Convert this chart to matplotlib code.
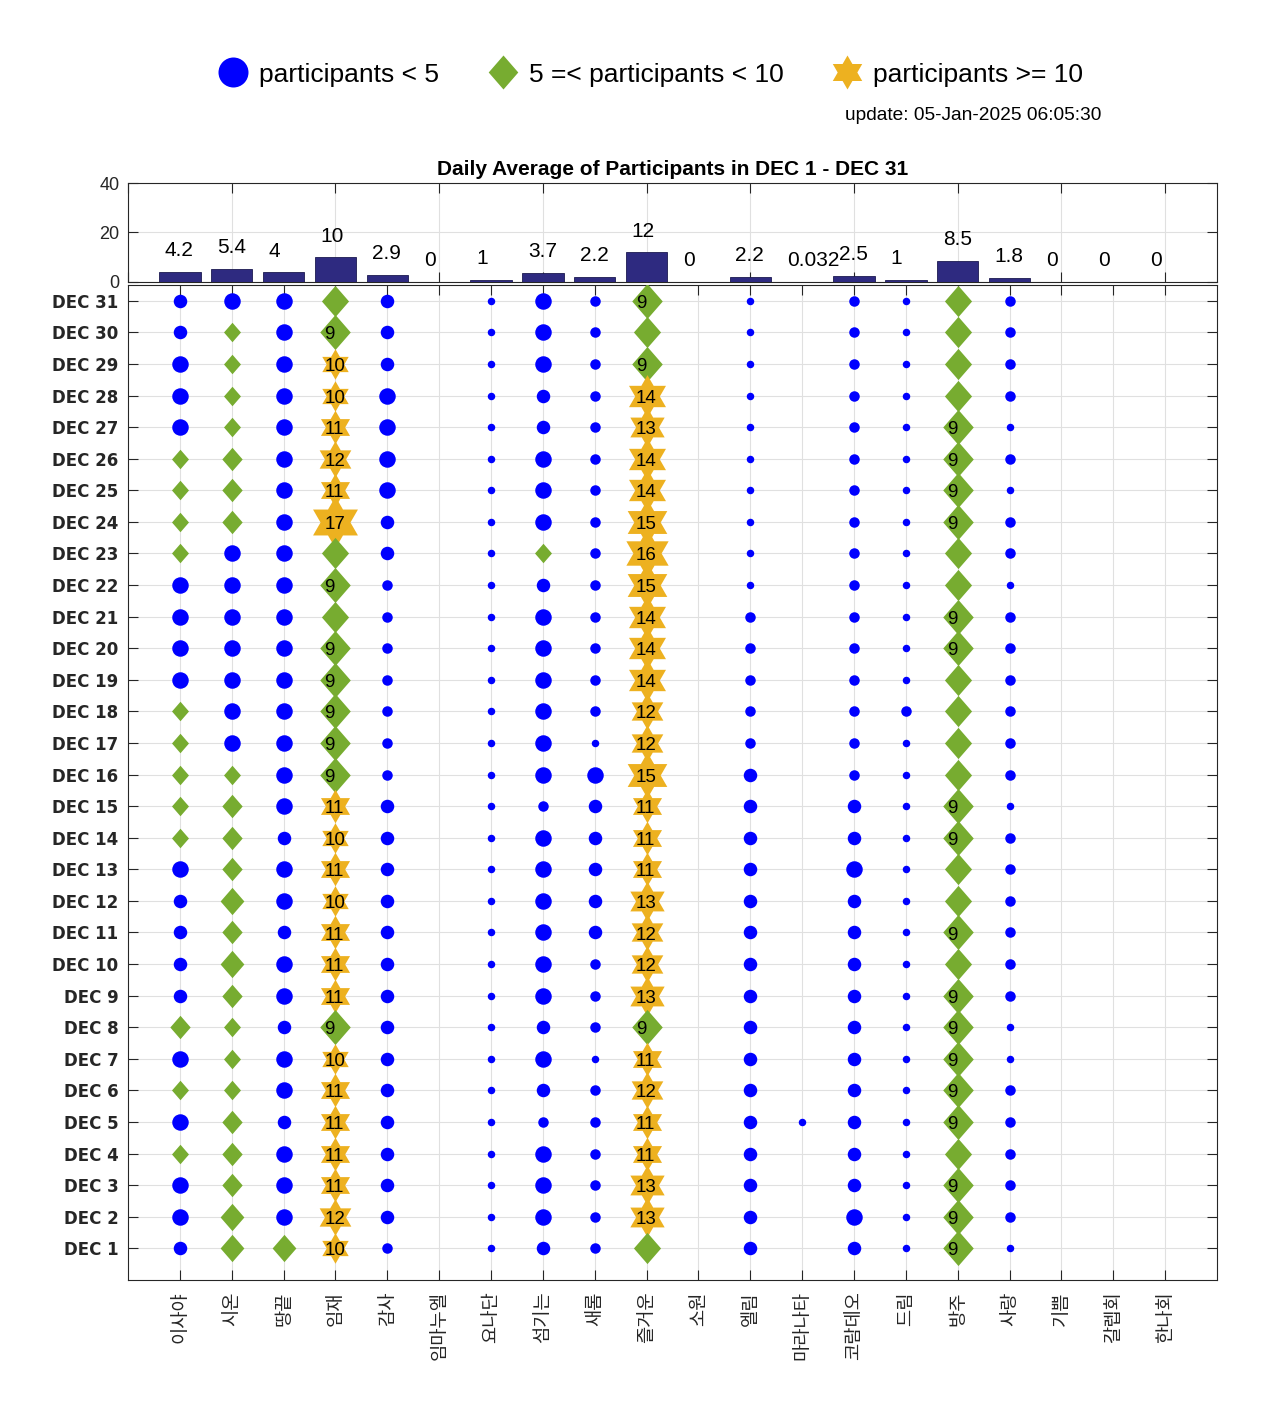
import numpy as np
import matplotlib.pyplot as plt
from matplotlib.path import Path
from matplotlib.lines import Line2D

# 카테고리 (x축)
categories = ['이사야', '시온', '땅끝', '임재', '감사', '임마누엘', '요나단', '섬기는', '새롬', '즐거운',
              '소원', '엘림', '마라나타', '코람데오', '드림', '방주', '사랑', '기쁨', '갈렙회', '한나회']

# 막대 위 평균값
daily_avg = [4.2, 5.4, 4, 10, 2.9, 0, 1, 3.7, 2.2, 12, 0, 2.2, 0.032, 2.5, 1, 8.5, 1.8, 0, 0, 0]

days = list(range(31, 0, -1))          # DEC 31 ... DEC 1 (위에서 아래로)
day_labels = ['DEC %d' % d for d in range(1, 32)]

# 일별 참가자 수, DEC 31 -> DEC 1 순서
isaya = [3, 3, 4, 4, 4, 5, 5, 5, 5, 4, 4, 4, 4, 5, 5, 5, 5, 5, 4, 3, 3, 3, 3, 6, 4, 5, 4, 5, 4, 4, 3]
sion = [4, 5, 5, 5, 5, 6, 6, 6, 4, 4, 4, 4, 4, 4, 4, 5, 6, 6, 6, 7, 6, 7, 6, 5, 5, 5, 6, 6, 6, 7, 7]
ttangkkeut = [4, 4, 4, 4, 4, 4, 4, 4, 4, 4, 4, 4, 4, 4, 4, 4, 4, 3, 4, 4, 3, 4, 4, 3, 4, 4, 3, 4, 4, 4, 7]
imjae = [8, 9, 10, 10, 11, 12, 11, 17, 8, 9, 8, 9, 9, 9, 9, 9, 11, 10, 11, 10, 11, 11, 11, 9, 10, 11, 11, 11, 11, 12, 10]
gamsa = [3, 3, 3, 4, 4, 4, 4, 3, 3, 2, 2, 2, 2, 2, 2, 2, 3, 3, 3, 3, 3, 3, 3, 3, 3, 3, 3, 3, 3, 3, 2]
immanuel = [0] * 31
yonadan = [1] * 31
seomgineun = [4, 4, 4, 3, 3, 4, 4, 4, 5, 3, 4, 4, 4, 4, 4, 4, 2, 4, 4, 4, 4, 4, 4, 3, 4, 3, 2, 4, 4, 4, 3]
saerom = [2, 2, 2, 2, 2, 2, 2, 2, 2, 2, 2, 2, 2, 2, 1, 4, 3, 3, 3, 3, 3, 2, 2, 2, 1, 2, 2, 2, 2, 2, 2]
jeulgeoun = [9, 8, 9, 14, 13, 14, 14, 15, 16, 15, 14, 14, 14, 12, 12, 15, 11, 11, 11, 13, 12, 12, 13, 9, 11, 12, 11, 11, 13, 13, 8]
sowon = [0] * 31
elim = [1, 1, 1, 1, 1, 1, 1, 1, 1, 1, 2, 2, 2, 2, 2, 3, 3, 3, 3, 3, 3, 3, 3, 3, 3, 3, 3, 3, 3, 3, 3]
maranatha = [0, 0, 0, 0, 0, 0, 0, 0, 0, 0, 0, 0, 0, 0, 0, 0, 0, 0, 0, 0, 0, 0, 0, 0, 0, 0, 1, 0, 0, 0, 0]
coramdeo = [2, 2, 2, 2, 2, 2, 2, 2, 2, 2, 2, 2, 2, 2, 2, 2, 3, 3, 4, 3, 3, 3, 3, 3, 3, 3, 3, 3, 3, 4, 3]
dream = [1, 1, 1, 1, 1, 1, 1, 1, 1, 1, 1, 1, 1, 2, 1, 1, 1, 1, 1, 1, 1, 1, 1, 1, 1, 1, 1, 1, 1, 1, 1]
bangju = [8, 8, 8, 8, 9, 9, 9, 9, 8, 8, 9, 9, 8, 8, 8, 8, 9, 9, 8, 8, 9, 8, 9, 9, 9, 9, 9, 8, 9, 9, 9]
sarang = [2, 2, 2, 2, 1, 2, 1, 2, 2, 1, 2, 2, 2, 2, 2, 2, 1, 2, 2, 2, 2, 2, 2, 1, 1, 2, 2, 2, 2, 2, 1]
gippeum = [0] * 31
galeb = [0] * 31
hanna = [0] * 31

counts = [isaya, sion, ttangkkeut, imjae, gamsa, immanuel, yonadan, seomgineun, saerom, jeulgeoun,
          sowon, elim, maranatha, coramdeo, dream, bangju, sarang, gippeum, galeb, hanna]

update_text = 'update: 05-Jan-2025 06:05:30'

c_blue = '#0000ff'
c_green = '#77ac30'
c_orange = '#edb120'
c_bar = '#2e2a80'
c_axis = '#262626'
c_grid = '#e0e0e0'

# 마커 모양
diamond = Path([(0, 1), (0.87, 0), (0, -1), (-0.87, 0), (0, 1)], closed=True)
ang = np.pi / 2 + np.arange(12) * np.pi / 6
rad = np.where(np.arange(12) % 2 == 0, 1.0, 1 / np.sqrt(3))
hexagram = Path(np.column_stack([rad * np.cos(ang), rad * np.sin(ang)]).tolist() + [[0, 1]], closed=True)

px2pt = 72 / 100.0

fig = plt.figure(figsize=(12.8, 14.22), dpi=100)

# ---- 위쪽 막대 그래프 ----
ax_top = fig.add_axes([0.1, 0.8017, 0.8508, 0.0696])
x = np.arange(1, len(categories) + 1)
ax_top.bar(x, daily_avg, width=0.8, color=c_bar, edgecolor='#1c1a50', linewidth=0.6, zorder=3)
for xi, v in zip(x, daily_avg):
    ax_top.text(xi - 0.29, v + 8.5, '%.2g' % v, ha='left', va='center', fontsize=15,
                family='Liberation Sans', color='black', zorder=4)
ax_top.set_xlim(0, 21)
ax_top.set_ylim(0, 40)
ax_top.set_xticks(range(0, 21, 2))
ax_top.set_xticklabels([])
ax_top.set_yticks([0, 20, 40])
ax_top.set_title('Daily Average of Participants in DEC 1 - DEC 31', fontsize=15, fontweight='bold',
                 family='Liberation Sans', pad=6)
ax_top.grid(True, color=c_grid, linewidth=0.8, zorder=0)
ax_top.set_axisbelow(True)
ax_top.tick_params(direction='in', length=7, top=True, right=True, colors=c_axis,
                   labelsize=13, pad=6)
for lab in ax_top.get_yticklabels():
    lab.set_family('Liberation Sans')
for s in ax_top.spines.values():
    s.set_color(c_axis)
    s.set_linewidth(0.8)

# ---- 아래쪽 일별 그래프 ----
ax = fig.add_axes([0.1, 0.0999, 0.8508, 0.6997])
for i, col in enumerate(counts):
    xi = i + 1
    for d, v in zip(days, col):
        if v == 0:
            continue
        if v < 5:
            ax.plot(xi, d, marker='o', color=c_blue, mec='none', ls='none',
                    ms=(3 * v + 4.5) * px2pt, zorder=3)
        elif v < 10:
            ax.plot(xi, d, marker=diamond, color=c_green, mec='none', ls='none',
                    ms=3.9 * v * px2pt, zorder=3)
        else:
            ax.plot(xi, d, marker=hexagram, color=c_orange, mec='none', ls='none',
                    ms=3.05 * v * px2pt, zorder=3)
        if v >= 9:
            ax.text(xi - 0.21, d - 0.08, str(v), ha='left', va='center', fontsize=13.5,
                    family='Liberation Sans', color='black', zorder=5)

ax.set_xlim(0, 21)
ax.set_ylim(0, 31.5)
ax.set_xticks(x)
ax.set_xticklabels(categories, rotation=90, fontsize=13.5, family=['Noto Sans CJK KR', 'DejaVu Sans'],
                   color='#1a1a1a')
ax.set_yticks(range(1, 32))
ax.set_yticklabels(day_labels, fontsize=12, fontweight='bold', family='DejaVu Sans', color=c_axis)
ax.grid(True, color=c_grid, linewidth=0.8, zorder=0)
ax.set_axisbelow(True)
ax.tick_params(direction='in', length=7, top=True, right=True, colors=c_axis)
ax.tick_params(axis='y', pad=7)
ax.tick_params(axis='x', pad=8)
for s in ax.spines.values():
    s.set_color(c_axis)
    s.set_linewidth(0.8)

# ---- 범례 ----
handles = [
    Line2D([], [], ls='none', marker='o', color=c_blue, mec='none', ms=30 * px2pt),
    Line2D([], [], ls='none', marker=diamond, color=c_green, mec='none', ms=34 * px2pt),
    Line2D([], [], ls='none', marker=hexagram, color=c_orange, mec='none', ms=34 * px2pt),
]
fig.legend(handles, ['participants < 5', '5 =< participants < 10', 'participants >= 10'],
           loc='center', bbox_to_anchor=(0.508, 0.9475), ncol=3, frameon=False,
           prop={'family': 'Liberation Sans', 'size': 19}, handlelength=1.2,
           handletextpad=0.4, columnspacing=1.8)

fig.text(845 / 1280, 1 - 115 / 1422, update_text, ha='left', va='center', fontsize=13.8,
         family='Liberation Sans', color='black')

fig.savefig('out.png', dpi=100, facecolor='white')
